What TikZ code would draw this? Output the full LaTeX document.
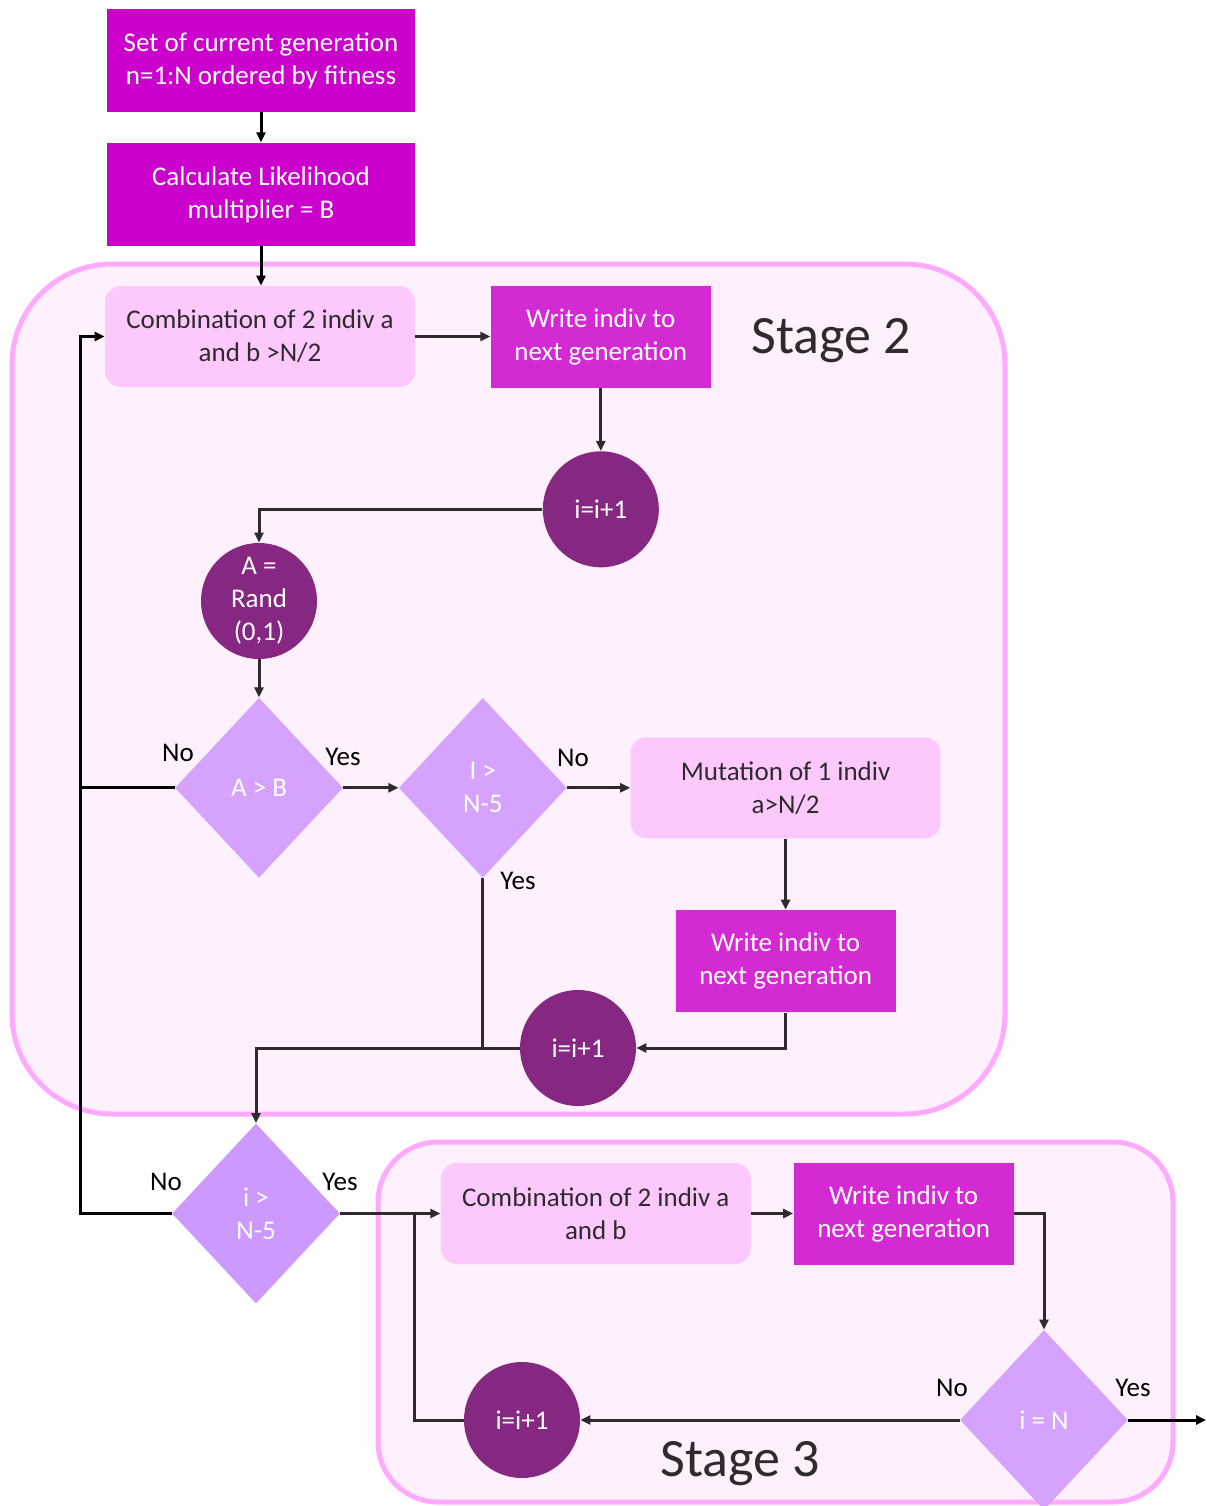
\documentclass[tikz,border=0pt]{standalone}
\usepackage{fontspec}
\setmainfont{Carlito}
\usetikzlibrary{positioning, shapes.geometric, arrows.meta}

\definecolor{setmagenta}{HTML}{CC00CC}
\definecolor{writemagenta}{HTML}{D42AD4}
\definecolor{softpink}{HTML}{FDC9FD}
\definecolor{plum}{HTML}{862882}
\definecolor{lilac}{HTML}{D5A3FD}
\definecolor{lilacdark}{HTML}{CC99FF}
\definecolor{stagefill}{HTML}{FEF0FD}
\definecolor{stageline}{HTML}{FFA9FF}
\definecolor{ink}{HTML}{2E2A2E}

\begin{document}
\begin{tikzpicture}[
x=0.5pt, y=-0.5pt,
font=\fontsize{13.5}{16.5}\selectfont,
>={Triangle[length=5pt,width=4.5pt]},
magentanode/.style={rectangle, fill=setmagenta, text=white, align=center, inner sep=0pt, minimum width=154pt, minimum height=51.5pt},
writenode/.style={rectangle, fill=writemagenta, text=white, align=center, inner sep=0pt, minimum width=110pt, minimum height=51pt},
softnode/.style={rectangle, rounded corners=8pt, fill=softpink, text=ink, align=center, inner sep=0pt, minimum width=155pt, minimum height=50.5pt},
countnode/.style={circle, fill=plum, text=white, align=center, inner sep=0pt, minimum size=58pt},
testnode/.style={diamond, fill=lilac, text=white, align=center, inner sep=0pt, minimum width=84pt, minimum height=90pt},
stagebox/.style={fill=stagefill, draw=stageline, line width=2.5pt},
stagelabel/.style={font=\fontsize{27}{32}\selectfont, text=ink},
flow/.style={draw=ink, line width=1.5pt},
]
    % stage backgrounds
    \useasboundingbox (0,0) rectangle (1206,1506);
    \draw[stagebox, rounded corners=50pt] (12,264) rectangle (1005,1114);
    \draw[stagebox, rounded corners=30pt] (378,1142) rectangle (1173,1502);

    \node[magentanode]  (current)     at (261,60.5)                  {Set of current generation\\n=1:N ordered by fitness};
    \node[magentanode]  (likelihood)  [below=15pt of current]        {Calculate Likelihood\\multiplier = B};

    % stage 2
    \node[softnode]     (combine)     at (260,336.5)                 {Combination of 2 indiv a\\and b >N/2};
    \node[writenode]    (write)       [right=37.5pt of combine]      {Write indiv to\\next generation};
    \node[countnode]    (count)       [below=31.5pt of write]        {i=i+1};
    \node[countnode]    (random)      at (259,601)                   {A =\\Rand\\(0,1)};
    \node[testnode]     (testAB)      [below=19pt of random]         {A > B};
    \node[testnode]     (testI)       [right=27.5pt of testAB]       {I >\\N-5};
    \node[softnode]     (mutate)      [right=31.5pt of testI]        {Mutation of 1 indiv\\a>N/2};
    \node[writenode]    (writemut)    [below=35.5pt of mutate]       {Write indiv to\\next generation};
    \node[countnode]    (countmut)    at (578,1048)                  {i=i+1};
    \node[stagelabel]   (stagetwo)    at (831,341)                   {Stage 2};

    % stage 3
    \node[testnode, fill=lilacdark] (testend) at (256,1213.5)     {i >\\N-5};
    \node[softnode]     (combineall)  [right=50pt of testend]        {Combination of 2 indiv a\\and b};
    \node[writenode]    (writeall)    [right=21pt of combineall]     {Write indiv to\\next generation};
    \node[testnode]     (testN)       at (1044,1420)                 {i = N};
    \node[countnode]    (countall)    at (522,1420)                  {i=i+1};
    \node[stagelabel]   (stagethree)  at (740,1464)                  {Stage 3};

    % branch labels
    \node (noAB)  at (178,753)   {No};
    \node (yesAB) at (343,757)   {Yes};
    \node (noI)   at (573,758)   {No};
    \node (yesI)  at (518,881)   {Yes};
    \node (noend) at (166,1182)  {No};
    \node (yesend) at (340,1182) {Yes};
    \node (noN)   at (952,1388)  {No};
    \node (yesN)  at (1133,1388) {Yes};

    \coordinate (rail) at (80,1213.5);
    \coordinate (loop) at (414,1213.5);
    \coordinate (exit) at (1206,1420);

    \draw[flow, draw=black, ->] (current.south) -- (likelihood.north);
    \draw[flow, draw=black, ->] (likelihood.south) -- (likelihood.south |- combine.north);
    \draw[flow, ->] (combine.east) -- (write.west);
    \draw[flow, ->] (write.south) -- (count.north);
    \draw[flow, ->] (count.west) -| (random.north);
    \draw[flow, ->] (random.south) -- (testAB.north);
    \draw[flow, ->] (testAB.east) -- (testI.west);
    \draw[flow, ->] (testI.east) -- (mutate.west);
    \draw[flow, ->] (mutate.south) -- (writemut.north);
    \draw[flow, ->] (writemut.south) |- (countmut.east);
    \draw[flow] (testI.south) -- (testI.south |- countmut.west);
    \draw[flow, ->] (countmut.west) -| (testend.north);
    \draw[flow, draw=black] (testAB.west) -- (testAB.west -| rail);
    \draw[flow, draw=black, ->] (testend.west) -- (rail) |- (combine.west);
    \draw[flow, ->] (testend.east) -- (combineall.west);
    \draw[flow, ->] (combineall.east) -- (writeall.west);
    \draw[flow, ->] (writeall.east) -| (testN.north);
    \draw[flow, ->] (testN.west) -- (countall.east);
    \draw[flow] (countall.west) -| (loop);
    \draw[flow, draw=black, ->] (testN.east) -- (exit);
\end{tikzpicture}
\end{document}
